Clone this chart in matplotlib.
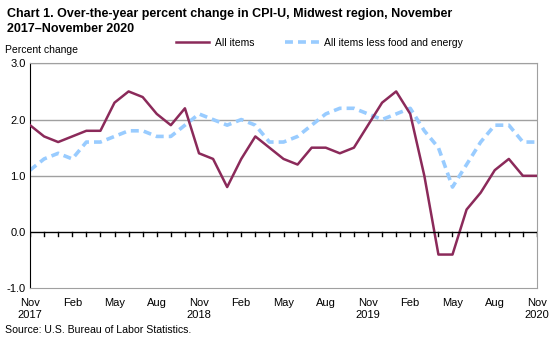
import matplotlib.pyplot as plt

plt.rcParams['font.family'] = ['Liberation Sans', 'DejaVu Sans']

# Nov 2017 .. Nov 2020, monthly
months = ['Nov', 'Dec', 'Jan', 'Feb', 'Mar', 'Apr', 'May', 'Jun', 'Jul', 'Aug', 'Sep', 'Oct'] * 3 + ['Nov']
all_items = [1.9, 1.7, 1.6, 1.7, 1.8, 1.8, 2.3, 2.5, 2.4, 2.1, 1.9, 2.2,
             1.4, 1.3, 0.8, 1.3, 1.7, 1.5, 1.3, 1.2, 1.5, 1.5, 1.4, 1.5,
             1.9, 2.3, 2.5, 2.1, 1.0, -0.4, -0.4, 0.4, 0.7, 1.1, 1.3, 1.0, 1.0]
core = [1.1, 1.3, 1.4, 1.3, 1.6, 1.6, 1.7, 1.8, 1.8, 1.7, 1.7, 1.9,
        2.1, 2.0, 1.9, 2.0, 1.9, 1.6, 1.6, 1.7, 1.9, 2.1, 2.2, 2.2,
        2.1, 2.0, 2.1, 2.2, 1.8, 1.5, 0.8, 1.2, 1.6, 1.9, 1.9, 1.6, 1.6]
tick_labels = {0: 'Nov\n2017', 3: 'Feb', 6: 'May', 9: 'Aug', 12: 'Nov\n2018', 15: 'Feb',
               18: 'May', 21: 'Aug', 24: 'Nov\n2019', 27: 'Feb', 30: 'May', 33: 'Aug',
               36: 'Nov\n2020'}

x = list(range(len(months)))

fig = plt.figure(figsize=(5.57, 3.42), dpi=100)
ax = fig.add_axes([30 / 557, 1 - 288.3 / 342, 507 / 557, 225 / 342])

for y in [1.0, 2.0, 3.0]:
    ax.axhline(y, color='#a0a0a0', lw=1, zorder=1)

ax.plot(x, all_items, color='#8b2a5a', lw=1.8, zorder=3, label='All items')
ax.plot(x, core, color='#99ccff', lw=2.6, ls=(0, (2.2, 1.4)), zorder=2,
        label='All items less food and energy')

# zero line with month tick marks hanging below it
ax.axhline(0, color='black', lw=1, zorder=4)
for i in x:
    ax.plot([i, i], [0, -0.07], color='black', lw=1, zorder=4)

ax.set_xlim(0, 36)
ax.set_ylim(-1, 3)
ax.set_yticks([-1, 0, 1, 2, 3])
ax.set_yticklabels(['-1.0', '0.0', '1.0', '2.0', '3.0'], fontsize=8)
ax.set_xticks(list(tick_labels.keys()))
ax.set_xticklabels(list(tick_labels.values()), fontsize=8, linespacing=1.3)
ax.tick_params(axis='both', length=0, pad=3)
ax.tick_params(axis='x', pad=7)

for side in ['top', 'right', 'bottom']:
    ax.spines[side].set_color('#a0a0a0')
ax.spines['left'].set_color('black')

fig.text(7 / 557, 1 - 8 / 342,
         'Chart 1. Over-the-year percent change in CPI-U, Midwest region, November\n2017\u2013November 2020',
         fontsize=9, fontweight='bold', va='top', ha='left', linespacing=1.3)
fig.text(5 / 557, 1 - 50 / 342, 'Percent change', fontsize=7.5, va='center', ha='left')
fig.text(5 / 557, 1 - 330 / 342, 'Source: U.S. Bureau of Labor Statistics.', fontsize=7.6,
         va='center', ha='left')

fig.legend(loc='center left', bbox_to_anchor=(176 / 557, 1 - 43 / 342), ncol=2, frameon=False,
           fontsize=7.5, handlelength=3.2, columnspacing=3.0, handletextpad=0.5,
           borderpad=0, borderaxespad=0)

fig.savefig('out.png', dpi=100)
